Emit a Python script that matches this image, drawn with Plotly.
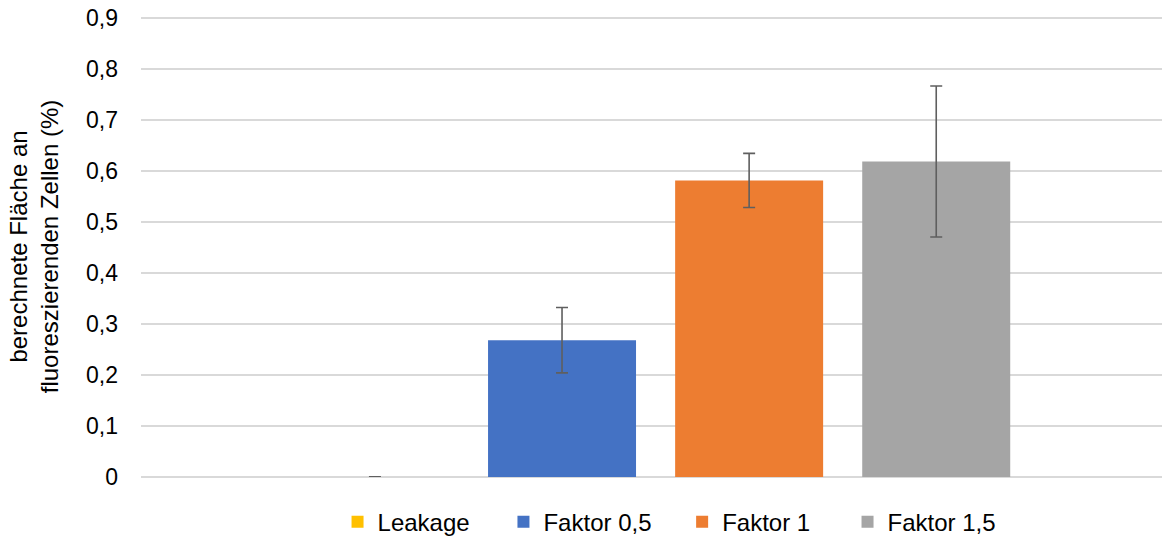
import plotly.graph_objects as go

# Data
CATEGORY = ['']
SERIES = ['Leakage', 'Faktor 0,5', 'Faktor 1', 'Faktor 1,5']
VALUES = [0.0, 0.268, 0.581, 0.618]
ERRORS = [0.0004, 0.064, 0.053, 0.148]
COLORS = ['#FFC000', '#4472C4', '#ED7D31', '#A5A5A5']

Y_TICKS = [0, 0.1, 0.2, 0.3, 0.4, 0.5, 0.6, 0.7, 0.8, 0.9]
Y_TICK_LABELS = ['0', '0,1', '0,2', '0,3', '0,4', '0,5', '0,6', '0,7', '0,8', '0,9']

# one legend box per series, spread like the Excel legend
LEGEND_X = [0.1925, 0.355, 0.530, 0.692]

FONT = 'Liberation Sans, Arial, sans-serif'

fig = go.Figure()
for i, (name, val, err, col) in enumerate(zip(SERIES, VALUES, ERRORS, COLORS)):
    fig.add_trace(go.Bar(
        x=CATEGORY,
        y=[val],
        name=name,
        legend='legend' if i == 0 else 'legend%d' % (i + 1),
        marker=dict(color=col, line=dict(width=0)),
        error_y=dict(type='data', array=[err], visible=True,
                     color='#5f5f5f', thickness=1.6, width=6),
    ))

legends = {}
for i, lx in enumerate(LEGEND_X):
    key = 'legend' if i == 0 else 'legend%d' % (i + 1)
    legends[key] = dict(
        orientation='h',
        x=lx, xanchor='left',
        y=-0.098, yanchor='middle',
        font=dict(size=24, color='#000000'),
        bgcolor='rgba(0,0,0,0)',
    )

fig.update_layout(
    barmode='group',
    bargap=0.267,
    bargroupgap=0.209,
    width=1164,
    height=540,
    margin=dict(l=141, r=2, t=16, b=63, autoexpand=False),
    plot_bgcolor='white',
    paper_bgcolor='white',
    font=dict(family=FONT, size=23, color='#000000'),
    showlegend=True,
    xaxis=dict(
        range=[-0.504, 0.496],
        showticklabels=False,
        showgrid=False,
        zeroline=False,
        showline=False,
        ticks='',
    ),
    yaxis=dict(
        range=[0, 0.903],
        tickvals=Y_TICKS,
        ticktext=Y_TICK_LABELS,
        showgrid=True,
        gridcolor='#d9d9d9',
        gridwidth=1.6,
        zeroline=True,
        zerolinecolor='#d9d9d9',
        zerolinewidth=1.6,
        showline=False,
        ticks='',
        automargin=False,
        ticklabelstandoff=22,
        tickfont=dict(size=23, color='#000000'),
        title=dict(
            text='berechnete Fläche an<br>fluoreszierenden Zellen (%)',
            font=dict(size=24, color='#000000'),
            standoff=20,
        ),
    ),
    **legends,
)

# drop the default 8px body margin so the figure fills the window
fig.write_html('out.html', config={'displayModeBar': False},
               post_script="document.body.style.margin='0';")
